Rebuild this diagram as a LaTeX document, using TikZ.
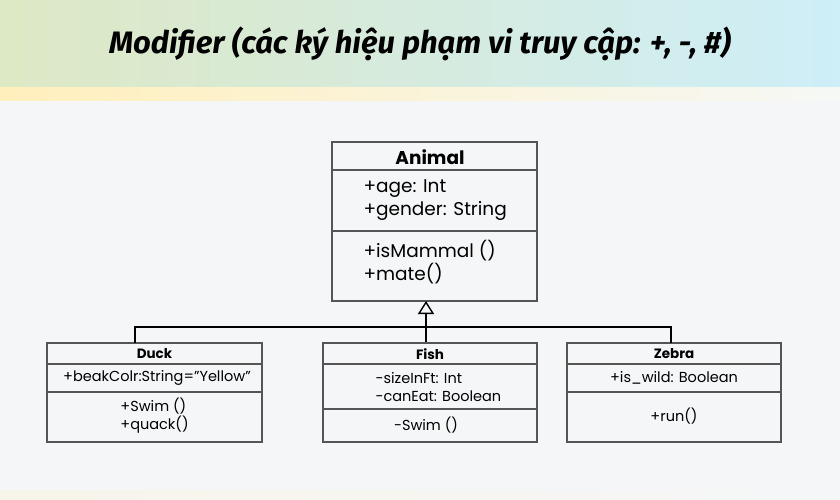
\documentclass[tikz,border=0pt]{standalone}
\usepackage{fontspec}
\setmainfont{Poppins}
\newfontfamily\titlefont{Fira Sans}
\usetikzlibrary{arrows.meta}
\definecolor{bgcol}{HTML}{F5F6F8}
\definecolor{hdrleft}{HTML}{DDE8C4}
\definecolor{hdrmid}{HTML}{CFEAEA}
\definecolor{hdrright}{HTML}{CEEEF8}
\definecolor{stripleft}{HTML}{FFEFBC}
\definecolor{stripright}{HTML}{F6F8F6}
\definecolor{boxline}{HTML}{555555}
\tikzset{
  classbox/.style={draw=boxline, line width=1.4pt, fill=bgcol, inner sep=0pt},
  sepline/.style={draw=boxline, line width=1.2pt},
  classname/.style={font=\bfseries\fontsize{13.5}{15}\selectfont},
  member/.style={font=\fontsize{14.5}{18}\selectfont, align=left},
  bigmember/.style={font=\fontsize{18.5}{23}\selectfont, align=left},
  hierbar/.style={line width=2.6pt, line cap=rect},
}
\begin{document}
\begin{tikzpicture}[x=1pt,y=-1pt]
    %% background
    \fill[bgcol] (0,0) rectangle (840,500);
    \shade[left color=hdrleft, middle color=hdrmid, right color=hdrright] (0,0) rectangle (840,88);
    \shade[left color=stripleft, right color=stripright] (0,88) rectangle (840,101);
    \shade[left color=stripleft!25!bgcol, right color=bgcol] (0,490) rectangle (840,500);
    \useasboundingbox (0,0) rectangle (840,500);
    %% title
    \node[font=\titlefont\bfseries\itshape\fontsize{31}{36}\selectfont] (title) at (420,44)
        {Modifier (các ký hiệu phạm vi truy cập: +, -, \#)};
    %% Animal
    \node[classbox, minimum width=205, minimum height=159] (animal) at (434.5,221.5) {};
    \draw[sepline] (332,170) -- (537,170);
    \draw[sepline] (332,231) -- (537,231);
    \node[classname, font=\bfseries\fontsize{18.5}{20}\selectfont] (animalname) at (430,157) {Animal};
    \node[bigmember, anchor=west] (animalattr) at (360,200) {+age: Int\\+gender: String};
    \node[bigmember, anchor=west] (animalops) at (360,262) {+isMammal ()\\+mate()};
    %% Duck
    \node[classbox, minimum width=215, minimum height=99] (duck) at (154.5,392.5) {};
    \draw[sepline] (47,364) -- (262,364);
    \draw[sepline] (47,392) -- (262,392);
    \node[classname] (duckname) at (154.5,354) {Duck};
    \node[member] (duckattr) at (157,378) {+beakColr:String=''Yellow''};
    \node[member] (duckops) at (154.5,416) {+Swim ()\\+quack()};
    %% Fish
    \node[classbox, minimum width=214, minimum height=99] (fish) at (430,392.5) {};
    \draw[sepline] (323,364) -- (537,364);
    \draw[sepline] (323,409) -- (537,409);
    \node[classname] (fishname) at (430,354) {Fish};
    \node[member, anchor=west] (fishattr) at (372,387) {-sizeInFt: Int\\-canEat: Boolean};
    \node[member] (fishops) at (426,425) {-Swim ()};
    %% Zebra
    \node[classbox, minimum width=214, minimum height=99] (zebra) at (674,392.5) {};
    \draw[sepline] (567,364) -- (781,364);
    \draw[sepline] (567,392) -- (781,392);
    \node[classname] (zebraname) at (674,354) {Zebra};
    \node[member] (zebraattr) at (674,378) {+is\_wild: Boolean};
    \node[member] (zebraops) at (674,416) {+run()};
    %% inheritance
    \coordinate (tip) at (426,301);
    \coordinate (duckjoin) at (135,342);
    \coordinate (fishjoin) at (426,342);
    \coordinate (zebrajoin) at (671,342);
    \draw[hierbar] (duckjoin) -- ++(0,-15) -| (zebrajoin);
    \draw[line width=1.6pt, -{Triangle[open, width=16pt, length=13pt, line width=1.4pt]}]
        (fishjoin) -- (tip);
\end{tikzpicture}
\end{document}
